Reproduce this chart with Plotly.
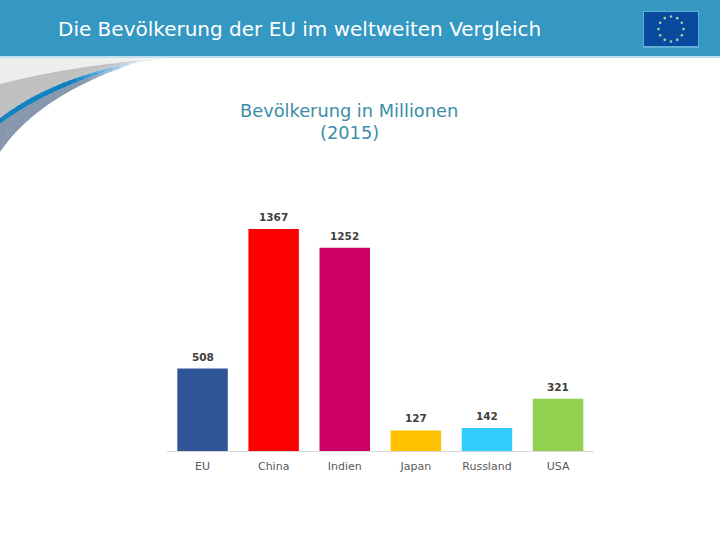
import math
import plotly.graph_objects as go

categories = ["EU", "China", "Indien", "Japan", "Russland", "USA"]
population = [508, 1367, 1252, 127, 142, 321]
bar_colors = ["#2F5597", "#FF0000", "#CC0066", "#FFC000", "#33CCFF", "#92D050"]

W, H = 720, 540
def X(p): return p / W
def Y(p): return 1 - p / H

def rect(x0, y0, x1, y1, color):
    return dict(type="rect", xref="paper", yref="paper", x0=X(x0), x1=X(x1), y0=Y(y1), y1=Y(y0),
                fillcolor=color, line=dict(width=0), layer="below")

def bez(c, t):
    u = 1 - t
    x = u**3*c[0][0] + 3*u*u*t*c[1][0] + 3*u*t*t*c[2][0] + t**3*c[3][0]
    y = u**3*c[0][1] + 3*u*u*t*c[1][1] + 3*u*t*t*c[2][1] + t**3*c[3][1]
    return x, y

def lerp_color(stops, t):
    for (t0, c0), (t1, c1) in zip(stops, stops[1:]):
        if t <= t1:
            f = (t - t0) / (t1 - t0) if t1 > t0 else 0
            a = [int(c0[i:i+2], 16) for i in (1, 3, 5)]
            b = [int(c1[i:i+2], 16) for i in (1, 3, 5)]
            return "#%02X%02X%02X" % tuple(round(p + (q - p) * f) for p, q in zip(a, b))
    return stops[-1][1]

def band(upper, lower, stops, n=24):
    out = []
    for i in range(n):
        t0, t1 = i / n, (i + 1) / n
        pts = [bez(upper, t0), bez(upper, t1 + 0.005), bez(lower, t1 + 0.005), bez(lower, t0)]
        d = "M " + " L ".join(f"{X(x):.5f},{Y(y):.5f}" for x, y in pts) + " Z"
        out.append(dict(type="path", xref="paper", yref="paper", path=d, fillcolor=lerp_color(stops, (t0 + t1) / 2),
                        line=dict(width=0), layer="below"))
    return out

light_top = [(0, 58), (60, 58), (120, 58), (172, 58)]
light_bot = [(0, 84), (50, 71), (110, 62), (172, 58)]
gray_bot = [(0, 118), (32, 94), (72, 74), (145, 60)]
blue_bot = [(0, 124), (32, 100), (75, 79), (145, 60)]
slate_bot = [(0, 152), (25, 115), (72, 82), (145, 60)]

shapes = []
shapes += band(light_top, light_bot, [(0, "#EDEDED"), (0.8, "#F0F0F0"), (1, "#FFFFFF")])
shapes += band(light_bot, gray_bot, [(0, "#C0C0C0"), (0.72, "#C0C0C0"), (0.88, "#C4D4E2"), (1, "#F4F9FC")])
shapes += band(blue_bot, slate_bot, [(0, "#8797AC"), (0.68, "#8797AC"), (0.85, "#A8C4DC"), (1, "#F4F9FC")])
shapes += band(gray_bot, blue_bot, [(0, "#1580BE"), (0.6, "#1580BE"), (0.76, "#5FAAD8"), (0.9, "#B5D6EC"), (1, "#F4F9FC")])
shapes += [
    rect(0, 0, 720, 56, "#3598C3"),
    rect(0, 56, 720, 58, "#BFE0EE"),
    rect(643, 11, 699, 48, "#5FB0D6"),
    rect(644, 12, 698, 46, "#0A4A9E"),
]
for i in range(12):
    a = math.radians(i * 30)
    cx, cy = 671 + 12.5 * math.sin(a), 29 - 12.5 * math.cos(a)
    shapes.append(dict(type="circle", xref="paper", yref="paper", x0=X(cx - 1.3), x1=X(cx + 1.3),
                       y0=Y(cy + 1.3), y1=Y(cy - 1.3), fillcolor="#A8D4A0", line=dict(width=0), layer="below"))

value_labels = [
    dict(text=str(v), x=c, y=v, xref="x", yref="y", yshift=12, xanchor="center", yanchor="middle", showarrow=False,
         font=dict(family="DejaVu Sans", size=10.5, color="#404040", weight="bold"))
    for c, v in zip(categories, population)
]

fig = go.Figure(go.Bar(
    x=categories, y=population, marker=dict(color=bar_colors, line=dict(width=0)),
    hoverinfo="skip",
))

fig.update_layout(
    width=W, height=H, autosize=False, showlegend=False,
    margin=dict(l=0, r=0, t=0, b=0, pad=0),
    paper_bgcolor="white", plot_bgcolor="rgba(0,0,0,0)",
    bargap=0.29,
    shapes=shapes,
    xaxis=dict(domain=[X(167), X(593.6)], showgrid=False, showline=True, linecolor="#D9D9D9", linewidth=1,
               ticks="", ticklabelstandoff=5, tickfont=dict(family="DejaVu Sans", size=11, color="#595959")),
    yaxis=dict(domain=[Y(451), Y(229)], range=[0, 1367], visible=False),
    annotations=value_labels + [
        dict(text="Die Bevölkerung der EU im weltweiten Vergleich", xref="paper", yref="paper",
             x=X(56), y=Y(29), xanchor="left", yanchor="middle", showarrow=False,
             font=dict(family="DejaVu Sans", size=20, color="white")),
        dict(text="Bevölkerung in Millionen", xref="paper", yref="paper",
             x=X(349), y=Y(111), xanchor="center", yanchor="middle", showarrow=False,
             font=dict(family="DejaVu Sans", size=17.8, color="#3A8EA8")),
        dict(text="(2015)", xref="paper", yref="paper",
             x=X(349), y=Y(132), xanchor="center", yanchor="middle", showarrow=False,
             font=dict(family="DejaVu Sans", size=17.8, color="#3A8EA8")),
    ],
)
fig.write_html("out.html", config=dict(displayModeBar=False), post_script="document.body.style.margin='0';")
